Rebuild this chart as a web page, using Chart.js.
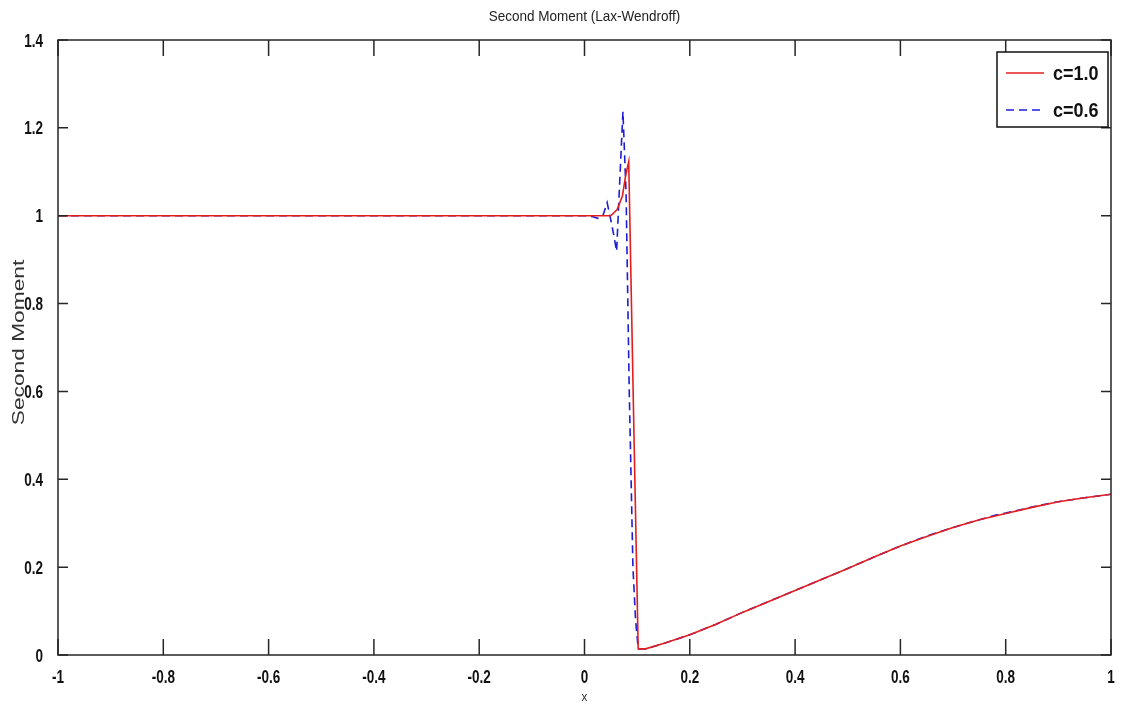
<!DOCTYPE html>
<html>
<head>
<meta charset="utf-8">
<script src="https://cdn.jsdelivr.net/npm/chart.js@4/dist/chart.umd.min.js"></script>
<style>
  body { margin: 0; background: #fff; }
  #wrap { width: 1124px; height: 711px; position: relative; }
</style>
</head>
<body>
<div id="wrap"><canvas id="chart"></canvas></div>
<script>
const chartTitle = "Second Moment (Lax-Wendroff)";
const xTitle = "x";
const yTitle = "Second Moment";
const xTicks = [-1, -0.8, -0.6, -0.4, -0.2, 0, 0.2, 0.4, 0.6, 0.8, 1];
const yTicks = [0, 0.2, 0.4, 0.6, 0.8, 1, 1.2, 1.4];

// c=1.0 (solid red)
const c10X = [-1, 0.05, 0.062, 0.072, 0.078, 0.084, 0.094, 0.102, 0.116, 0.15, 0.2, 0.25, 0.3, 0.35, 0.4, 0.45, 0.5, 0.55, 0.6, 0.65, 0.7, 0.75, 0.8, 0.85, 0.9, 0.95, 1.0];
const c10Y = [1, 1, 1.014, 1.045, 1.09, 1.123, 0.5, 0.014, 0.014, 0.026, 0.046, 0.07, 0.097, 0.122, 0.147, 0.172, 0.197, 0.223, 0.248, 0.27, 0.29, 0.308, 0.322, 0.336, 0.349, 0.358, 0.366];

// c=0.6 (dashed blue)
const c06X = [-1, 0, 0.015, 0.025, 0.035, 0.043, 0.05, 0.055, 0.061, 0.067, 0.073, 0.079, 0.085, 0.092, 0.097, 0.102, 0.116, 0.15, 0.2, 0.25, 0.3, 0.35, 0.4, 0.45, 0.5, 0.55, 0.6, 0.65, 0.7, 0.75, 0.78, 0.8, 0.85, 0.9, 0.95, 1.0];
const c06Y = [1, 1, 0.998, 0.994, 1.0, 1.03, 0.99, 0.96, 0.919, 1.08, 1.237, 1.05, 0.6, 0.2, 0.08, 0.014, 0.014, 0.026, 0.046, 0.07, 0.097, 0.122, 0.147, 0.172, 0.197, 0.223, 0.248, 0.271, 0.29, 0.308, 0.318, 0.323, 0.337, 0.349, 0.358, 0.366];

const toPts = (xs, ys) => xs.map((x, i) => ({x: x, y: ys[i]}));

const sans = "'Liberation Sans', Arial, sans-serif";

// text squeezed sideways like the old matlab export
function squeezed(ctx, text, x, y, sx, rot) {
  ctx.save();
  ctx.translate(x, y);
  if (rot) ctx.rotate(rot);
  ctx.scale(sx, 1);
  ctx.fillText(text, 0, 0);
  ctx.restore();
}

const frame = {
  id: "frame",
  afterDatasetsDraw(chart) {
    const {ctx, chartArea: a, scales: {x, y}} = chart;
    ctx.save();
    ctx.strokeStyle = "#262626";
    ctx.lineWidth = 1.5;
    ctx.strokeRect(a.left, a.top, a.right - a.left, a.bottom - a.top);
    ctx.beginPath();
    x.ticks.forEach(t => {
      const px = x.getPixelForValue(t.value);
      ctx.moveTo(px, a.bottom); ctx.lineTo(px, a.bottom - 16);
      ctx.moveTo(px, a.top); ctx.lineTo(px, a.top + 16);
    });
    y.ticks.forEach(t => {
      const py = y.getPixelForValue(t.value);
      ctx.moveTo(a.left, py); ctx.lineTo(a.left + 10, py);
      ctx.moveTo(a.right, py); ctx.lineTo(a.right - 10, py);
    });
    ctx.stroke();

    // tick labels
    ctx.fillStyle = "#111";
    ctx.font = "bold 18px " + sans;
    ctx.textBaseline = "alphabetic";
    ctx.textAlign = "center";
    x.ticks.forEach(t => {
      squeezed(ctx, String(t.value), x.getPixelForValue(t.value), a.bottom + 28, 0.75);
    });
    ctx.textAlign = "right";
    y.ticks.forEach(t => {
      squeezed(ctx, String(t.value), a.left - 15, y.getPixelForValue(t.value) + 6.5, 0.75);
    });

    // titles
    ctx.fillStyle = "#222";
    ctx.textAlign = "center";
    ctx.font = "15px " + sans;
    squeezed(ctx, chartTitle, (a.left + a.right) / 2, 21, 0.9);
    ctx.fillStyle = "#333";
    ctx.font = "13px " + sans;
    squeezed(ctx, xTitle, (a.left + a.right) / 2, 701, 0.9);
    ctx.font = "16px " + sans;
    squeezed(ctx, yTitle, 24, (a.top + a.bottom) / 2 - 5, 1.42, -Math.PI / 2);

    // legend
    const bw = 111, bh = 75;
    const bx = a.right - 3 - bw, by = a.top + 12;
    ctx.fillStyle = "#fff";
    ctx.fillRect(bx, by, bw, bh);
    ctx.strokeStyle = "#111";
    ctx.lineWidth = 1.5;
    ctx.strokeRect(bx, by, bw, bh);
    ctx.font = "bold 20px " + sans;
    ctx.textAlign = "left";
    chart.data.datasets.forEach((ds, i) => {
      const ly = by + 21 + i * 37;
      ctx.beginPath();
      ctx.strokeStyle = ds.borderColor;
      ctx.lineWidth = 1.6;
      ctx.setLineDash(ds.borderDash || []);
      ctx.moveTo(bx + 9, ly); ctx.lineTo(bx + 47, ly);
      ctx.stroke();
      ctx.setLineDash([]);
      ctx.fillStyle = "#111";
      squeezed(ctx, ds.label, bx + 56, ly + 7, 0.9);
    });
    ctx.restore();
  }
};

new Chart(document.getElementById("chart"), {
  type: "line",
  data: {
    datasets: [{
      label: "c=1.0",
      data: toPts(c10X, c10Y),
      borderColor: "rgb(228, 30, 30)",
      borderWidth: 1.6,
      pointRadius: 0,
      tension: 0
    }, {
      label: "c=0.6",
      data: toPts(c06X, c06Y),
      borderColor: "rgb(30, 30, 215)",
      borderWidth: 1.6,
      borderDash: [8, 5],
      pointRadius: 0,
      tension: 0
    }]
  },
  options: {
    responsive: true,
    maintainAspectRatio: false,
    animation: false,
    layout: { padding: { top: 40, right: 13, left: 0, bottom: 0 } },
    plugins: {
      legend: { display: false },
      tooltip: { enabled: false }
    },
    scales: {
      x: {
        type: "linear",
        min: -1,
        max: 1,
        afterBuildTicks: s => { s.ticks = xTicks.map(v => ({value: v})); },
        afterFit: s => { s.height = 56; },
        grid: { display: false, drawTicks: false },
        border: { display: false },
        ticks: { display: false }
      },
      y: {
        min: 0,
        max: 1.4,
        afterBuildTicks: s => { s.ticks = yTicks.map(v => ({value: v})); },
        afterFit: s => { s.width = 58; },
        grid: { display: false, drawTicks: false },
        border: { display: false },
        ticks: { display: false }
      }
    }
  },
  plugins: [frame]
});
</script>
</body>
</html>
